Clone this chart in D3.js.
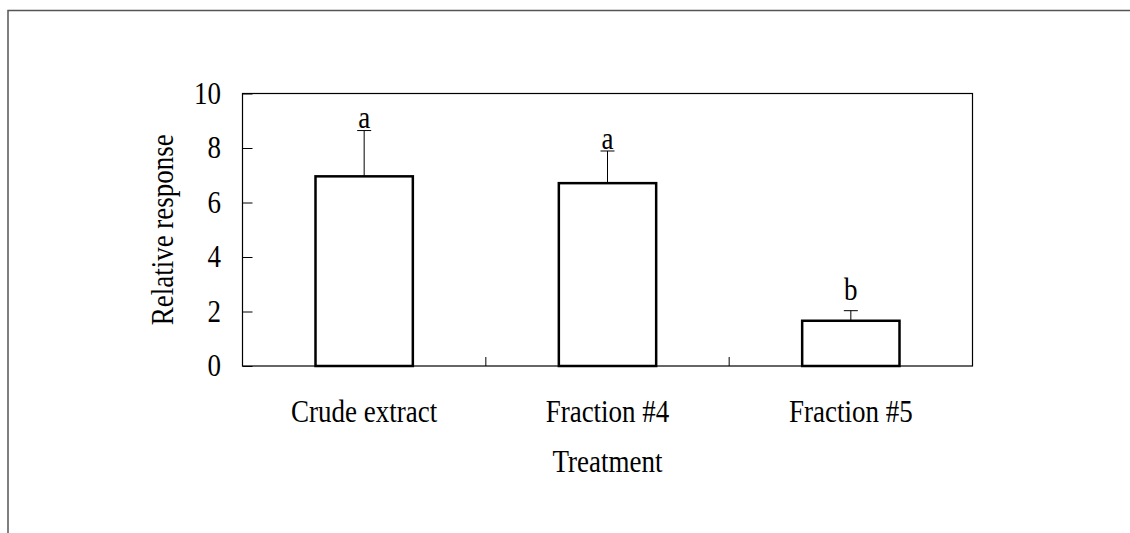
<!DOCTYPE html>
<html><head><meta charset="utf-8">
<script src="https://cdn.jsdelivr.net/npm/d3@7"></script>
<style>html,body{margin:0;padding:0;background:#fff;}svg{display:block;}</style>
</head><body>
<svg id="c" width="1130" height="533"></svg>
<script>
const categories = ["Crude extract", "Fraction #4", "Fraction #5"];
const means = [6.96, 6.71, 1.66];
const errTops = [8.64, 7.89, 2.03];
const letters = ["a", "a", "b"];
const letterPos = [8.72, 7.97, 2.42];
const yTicks = [0, 2, 4, 6, 8, 10];

const svg = d3.select("#c");
const font = "'Liberation Serif', 'DejaVu Serif', serif";
const FS = 27;
const SY = 1.15;
const m = {l: 242.5, t: 93.5, r: 972.5, b: 366};

function txt(g, tx, ty, s, anchor, rot) {
  return g.append("text")
    .attr("transform", `translate(${tx},${ty})${rot ? " rotate(" + rot + ")" : ""} scale(1,${SY})`)
    .attr("text-anchor", anchor || "middle")
    .attr("font-family", font).attr("font-size", FS).attr("fill", "#000").text(s);
}

// outer frame (left and top only)
svg.append("path").attr("d", "M8,533 V10.5 H1130").attr("fill", "none").attr("stroke", "#555").attr("stroke-width", 1.5);

const x = d3.scaleBand().domain(categories).range([m.l, m.r]).paddingInner(0.6).paddingOuter(0.3);
const xs = d3.scaleBand().domain(categories).range([m.l, m.r]);
const y = d3.scaleLinear().domain([0, 10]).range([m.b, m.t]);

// plot frame
svg.append("rect").attr("x", m.l).attr("y", m.t).attr("width", m.r - m.l).attr("height", m.b - m.t)
  .attr("fill", "none").attr("stroke", "#000").attr("stroke-width", 1.2);

// y axis
const yAxis = d3.axisRight(y).tickValues(yTicks).tickSize(10).tickFormat("");
const gy = svg.append("g").attr("transform", `translate(${m.l},0)`).call(yAxis);
gy.select(".domain").remove();
gy.selectAll("line").attr("stroke", "#000").attr("stroke-width", 1);
const gyl = svg.append("g");
yTicks.forEach(d => txt(gyl, 221, y(d) + 10, d, "end"));

// x axis ticks at category boundaries (inner)
const bounds = categories.slice(1).map(c => xs(c));
svg.append("g").selectAll("line").data(bounds).join("line")
  .attr("x1", d => d).attr("x2", d => d).attr("y1", m.b).attr("y2", m.b - 9)
  .attr("stroke", "#000").attr("stroke-width", 1);

// bars
svg.append("g").selectAll("rect").data(categories).join("rect")
  .attr("x", d => x(d)).attr("width", x.bandwidth())
  .attr("y", (d, i) => y(means[i])).attr("height", (d, i) => y(0) - y(means[i]))
  .attr("fill", "#fff").attr("stroke", "#000").attr("stroke-width", 2.5);

// error bars
const eg = svg.append("g");
categories.forEach((c, i) => {
  const cx = x(c) + x.bandwidth() / 2;
  eg.append("line").attr("x1", cx).attr("x2", cx).attr("y1", y(means[i])).attr("y2", y(errTops[i]))
    .attr("stroke", "#000").attr("stroke-width", 1);
  eg.append("line").attr("x1", cx - 7).attr("x2", cx + 7).attr("y1", y(errTops[i])).attr("y2", y(errTops[i]))
    .attr("stroke", "#000").attr("stroke-width", 1);
  txt(eg, cx, y(letterPos[i]), letters[i]);
});

// category labels
const gxl = svg.append("g");
categories.forEach(c => txt(gxl, xs(c) + xs.bandwidth() / 2, 422, c));

// axis titles
txt(svg, (m.l + m.r) / 2, 472, "Treatment");
txt(svg, 173, (m.t + m.b) / 2, "Relative response", "middle", -90);
</script>
</body></html>
